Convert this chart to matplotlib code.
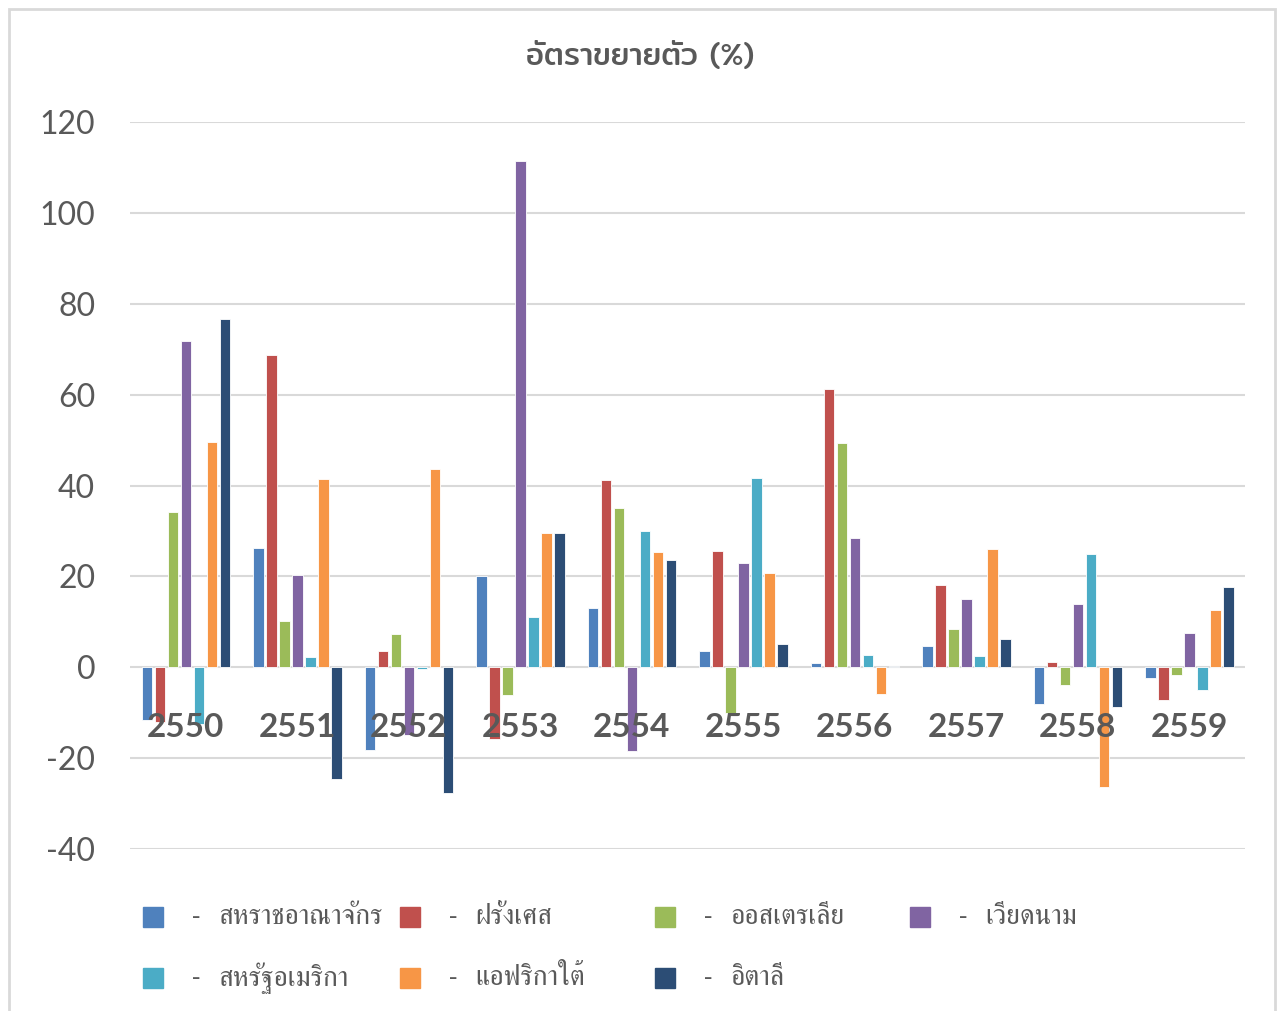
import matplotlib
matplotlib.use('Agg')
import matplotlib.pyplot as plt
from matplotlib.patches import Rectangle
import numpy as np

# data
years = ['2550', '2551', '2552', '2553', '2554', '2555', '2556', '2557', '2558', '2559']
names = ['สหราชอาณาจักร', 'ฝรั่งเศส', 'ออสเตรเลีย', 'เวียดนาม',
         'สหรัฐอเมริกา', 'แอฟริกาใต้', 'อิตาลี']
uk        = [-11.5, 26.3, -18.3, 20.0, 13.0, 3.5, 1.0, 4.7, -8.1, -2.4]
france    = [-12.0, 68.8, 3.5, -15.7, 41.3, 25.7, 61.2, 18.1, 1.1, -7.1]
australia = [34.2, 10.1, 7.3, -6.1, 35.1, -10.0, 49.3, 8.4, -4.0, -1.7]
vietnam   = [71.9, 20.4, -14.8, 111.4, -18.4, 23.0, 28.5, 15.1, 13.9, 7.6]
usa       = [-12.5, 2.3, -0.3, 11.0, 30.0, 41.6, 2.7, 2.4, 24.9, -5.1]
s_africa  = [49.5, 41.5, 43.7, 29.6, 25.4, 20.8, -5.8, 26.0, -26.4, 12.6]
italy     = [76.7, -24.6, -27.6, 29.5, 23.7, 5.1, 0.3, 6.3, -8.7, 17.7]
series = [uk, france, australia, vietnam, usa, s_africa, italy]
colors = ['#4F81BD', '#C0504D', '#9BBB59', '#8064A2', '#4BACC6', '#F79646', '#2C4D75']

plt.rcParams['font.family'] = ['Noto Sans Thai', 'DejaVu Sans']
plt.rcParams['axes.unicode_minus'] = False

grey = '#595959'
fig = plt.figure(figsize=(12.81, 10.11), dpi=100)
ax = fig.add_axes([0.1015, 0.1602, 0.8705, 0.7191])

x = np.arange(len(years))
pitch = 0.1166
width = 0.094
for k, (vals, col, name) in enumerate(zip(series, colors, names)):
    ax.bar(x + (k - 3) * pitch, vals, width, color=col, edgecolor='white',
           linewidth=0.6, label=name, zorder=3)

ax.set_ylim(-40, 120)
ax.set_xlim(-0.5, len(years) - 0.5)
ax.set_yticks(range(-40, 121, 20))
ax.set_xticks([])
ax.grid(axis='y', color='#D9D9D9', linewidth=1.5, zorder=0)
ax.tick_params(axis='y', length=0, pad=25, labelsize=23, labelcolor=grey)
for lab in ax.get_yticklabels():
    lab.set_fontfamily('Lato')
for s in ax.spines.values():
    s.set_visible(False)

# category labels sit on the zero line, as in the Excel original
for i, yr in enumerate(years):
    ax.text(i, -13.2, yr, ha='center', va='center', fontsize=24,
            fontweight='bold', color=grey, family='Lato', zorder=4)

fig.text(0.5, 0.945, 'อัตราขยายตัว (%)', ha='center', va='center',
         fontsize=22, color=grey, family=['Mitr', 'DejaVu Sans'])

# legend laid out in equal columns like Excel
col_x = [143, 400, 655, 910]
row_y = [917, 978]
W, H = 1281, 1011
for k, (name, col) in enumerate(zip(names, colors)):
    cx = col_x[k % 4]
    cy = row_y[k // 4]
    fig.add_artist(Rectangle((cx / W, (H - cy - 10) / H), 20 / W, 20 / H,
                             color=col, transform=fig.transFigure))
    fig.text((cx + 53) / W, (H - cy) / H, '-', ha='center', va='center',
             fontsize=18, color=grey, family='FreeSerif')
    fig.text((cx + 75) / W, (H - cy) / H, name, ha='left', va='center',
             fontsize=20, color=grey, family=['FreeSerif', 'DejaVu Sans'])

# outer chart border
fig.add_artist(Rectangle((9 / W, -0.01), 1266 / W, 1.0 - 9 / H + 0.01,
                         fill=False, edgecolor='#D9D9D9', linewidth=2,
                         transform=fig.transFigure))

fig.savefig('out.png', dpi=100)
